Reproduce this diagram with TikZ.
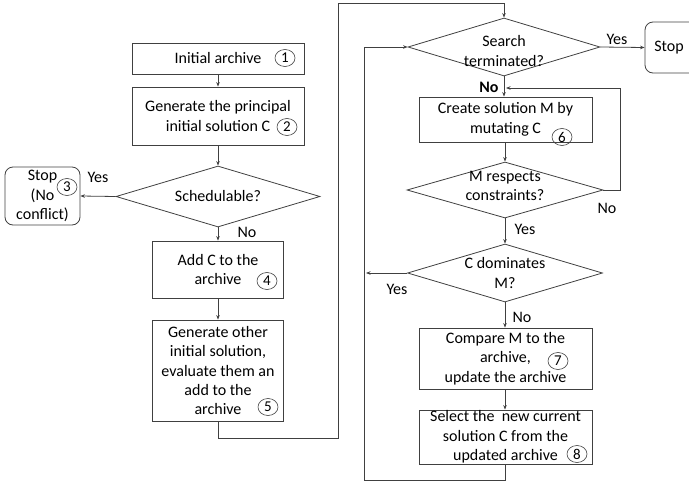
\documentclass[tikz,border=0pt]{standalone}
\usepackage{fontspec}
\setmainfont{Carlito}
\usetikzlibrary{shapes.geometric,arrows.meta,positioning}

\begin{document}
\begin{tikzpicture}[x=1pt,y=-1pt,
        font=\fontsize{16}{19.5}\selectfont,
        box/.style={draw=black!75, line width=0.8pt, inner sep=0pt, align=center},
        stopbox/.style={box, rounded corners=8pt},
        dia/.style={draw=black!75, line width=0.8pt, diamond, inner sep=0pt},
        num/.style={draw=black!75, line width=0.6pt, ellipse, inner sep=0pt,
            minimum width=20pt, minimum height=17pt, font=\fontsize{15}{15}\selectfont},
        arr/.style={draw=black!75, line width=0.8pt, -{Stealth[length=4.5pt,width=3.5pt]}},
        lin/.style={draw=black!75, line width=0.8pt}]
        \useasboundingbox (0,0) rectangle (689,482);
        % left column
        \node[box, minimum width=172pt, minimum height=31pt] (init) at (218,58.5) {Initial archive};
        \node[box, minimum width=172pt, minimum height=58pt] (gen) at (218,116) {Generate the principal\\initial solution C};
        \node[dia, minimum width=204pt, minimum height=61pt] (sched) at (218,196.5) {};
        \node (schedtxt) at (sched) {Schedulable?};
        \node[stopbox, minimum width=75pt, minimum height=58pt] (stopl) at (42.5,196) {Stop\\(No\\conflict)};
        \node[box, minimum width=131pt, minimum height=57pt] (add) at (218,269.5) {Add C to the\\archive};
        \node[box, minimum width=131pt, minimum height=101pt] (other) at (218,370.5)
            {Generate other\\initial solution,\\evaluate them an\\add to the\\archive};
        % right column
        \node[dia, minimum width=192pt, minimum height=58pt] (search) at (504,47) {};
        \node[align=center] (searchtxt) at (504,51) {Search\\terminated?};
        \node[stopbox, minimum width=56pt, minimum height=51pt] (stopr) at (673,47.5) {};
        \node (stoprtxt) at (669,47.5) {Stop};
        \node[box, minimum width=173pt, minimum height=45pt] (mut) at (505.5,119.5) {Create solution M by\\mutating C};
        \node[dia, minimum width=196pt, minimum height=56pt] (resp) at (505,190) {};
        \node[align=center] (resptxt) at (505,186) {M respects\\constraints?};
        \node[dia, minimum width=195pt, minimum height=58pt] (dom) at (505,273) {};
        \node[align=center] (domtxt) at (505,273) {C dominates\\M?};
        \node[box, minimum width=173pt, minimum height=61pt] (cmp) at (505.5,358.5) {Compare M to the\\archive,\\update the archive};
        \node[box, minimum width=173pt, minimum height=54pt] (sel) at (505.5,437)
            {Select the\ \ new current\\solution C from the\\updated archive};
        % step numbers
        \node[num] (n1) at (285,58) {1};
        \node[num] (n2) at (287,127) {2};
        \node[num] (n3) at (67,187) {3};
        \node[num] (n4) at (267,281) {4};
        \node[num] (n5) at (268,407) {5};
        \node[num] (n6) at (562,137) {6};
        \node[num] (n7) at (558,361) {7};
        \node[num] (n8) at (577,454) {8};
        % labels
        \node (ly1) at (98,177) {Yes};
        \node (ln1) at (247,232) {No};
        \node (ly2) at (617,39) {Yes};
        \node[font=\fontsize{16}{19.5}\selectfont\bfseries] (ln2) at (489,87) {No};
        \node (ln3) at (607,208) {No};
        \node (ly3) at (525,229) {Yes};
        \node (ly4) at (397,289) {Yes};
        \node (ln4) at (522,317) {No};
        % connectors
        \coordinate (j1) at (338,438);
        \coordinate (j2) at (338,3);
        \coordinate (k1) at (620,88);
        \coordinate (k2) at (506,88);
        \coordinate (k3) at (366,273);
        \coordinate (m1) at (364,480);
        \draw[arr] (init) -- (gen);
        \draw[arr] (gen) -- (sched);
        \draw[arr] (sched.west) -- (stopl.east);
        \draw[arr] (sched.south) -- (add.north);
        \draw[arr] (add) -- (other);
        \draw[arr] (other.south) |- (j1) -- (j2) -| (search.north);
        \draw[arr] (search.east) -- (stopr.west);
        \draw[arr] (search.south) -- (search.south |- mut.north);
        \draw[arr] (mut.south -| resp.north) -- (resp.north);
        \draw[arr] (resp.east) -| (k1) -- (k2);
        \draw[arr] (resp.south) -- (dom.north);
        \draw[arr] (dom.west) -- (k3);
        \draw[arr] (dom.south) -- (dom.south |- cmp.north);
        \draw[arr] (cmp.south -| dom.south) -- (dom.south |- sel.north);
        \draw[arr] (sel.south -| dom.south) |- (m1) |- (search.west);
\end{tikzpicture}
\end{document}
